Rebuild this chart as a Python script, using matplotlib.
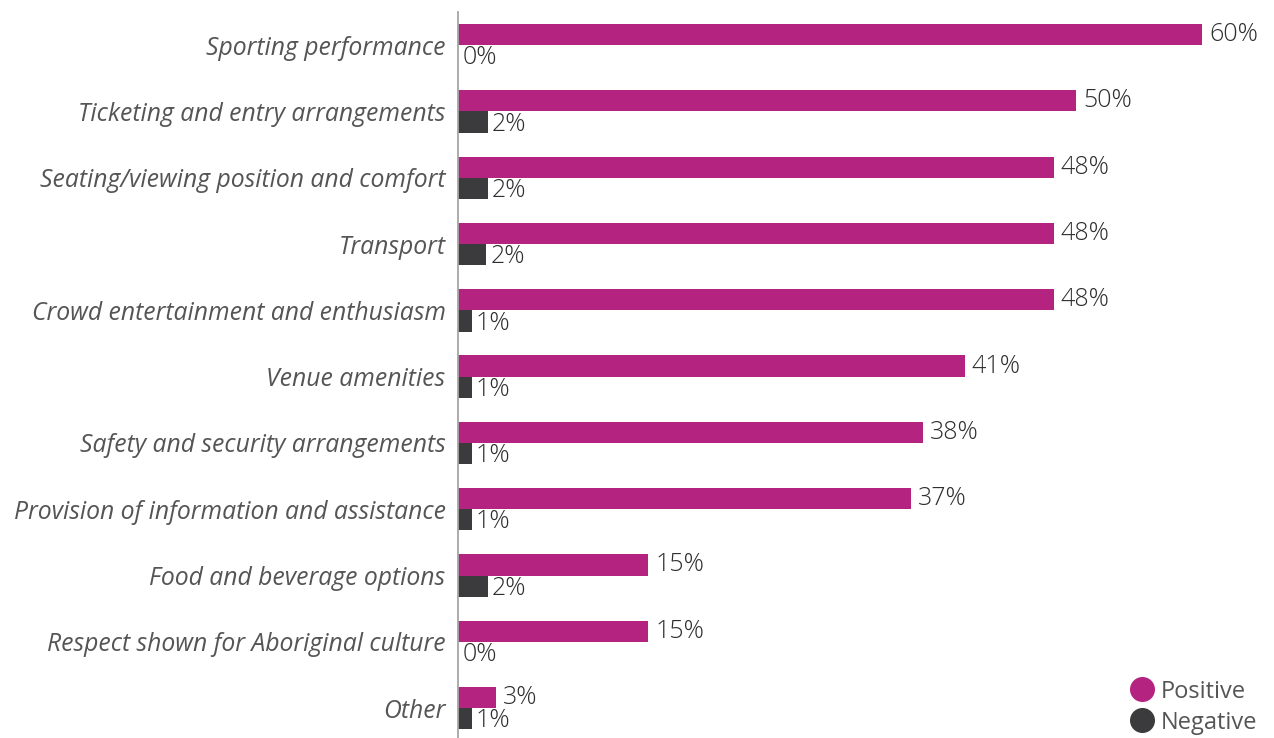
import matplotlib
matplotlib.use("Agg")
import matplotlib.pyplot as plt
from matplotlib.lines import Line2D

categories = [
    "Sporting performance",
    "Ticketing and entry arrangements",
    "Seating/viewing position and comfort",
    "Transport",
    "Crowd entertainment and enthusiasm",
    "Venue amenities",
    "Safety and security arrangements",
    "Provision of information and assistance",
    "Food and beverage options",
    "Respect shown for Aboriginal culture",
    "Other",
]
positive = [60.2, 50.0, 48.2, 48.2, 48.2, 41.0, 37.6, 36.6, 15.4, 15.4, 3.1]
negative = [0.0, 2.4, 2.4, 2.3, 1.1, 1.1, 1.1, 1.1, 2.4, 0.0, 1.1]
series_names = ["Positive", "Negative"]

POS_COLOR = "#B52380"
NEG_COLOR = "#3B3B3D"
TEXT_COLOR = "#2e2e2e"
LABEL_COLOR = "#555555"

plt.rcParams["font.family"] = ["Open Sans", "DejaVu Sans"]

fig = plt.figure(figsize=(12.74, 7.38), dpi=100)
ax = fig.add_axes([458 / 1274, 0, 816 / 1274, 726 / 738])

y = list(range(len(categories)))
h = 0.32
ypos = [i - h / 2 for i in y]
yneg = [i + h / 2 for i in y]

ax.barh(ypos, positive, height=h, color=POS_COLOR)
ax.barh(yneg, negative, height=h, color=NEG_COLOR)

for yy, v in zip(ypos, positive):
    ax.annotate(f"{v:.0f}%", (v, yy), xytext=(5, 0), textcoords="offset points",
                va="center", ha="left", fontsize=18, color=TEXT_COLOR, fontweight="light")
for yy, v in zip(yneg, negative):
    ax.annotate(f"{v:.0f}%", (v, yy), xytext=(3, -1.5), textcoords="offset points",
                va="center", ha="left", fontsize=18, color=TEXT_COLOR, fontweight="light")

ax.set_xlim(0, 66)
ax.set_ylim(10.45, -0.5)
ax.set_yticks(y)
ax.set_yticklabels(categories, fontsize=17.8, style="italic", color=LABEL_COLOR)
ax.tick_params(axis="y", length=0, pad=9)
ax.set_xticks([])
for s in ["top", "right", "bottom"]:
    ax.spines[s].set_visible(False)
ax.spines["left"].set_color("#A6A6A6")
ax.spines["left"].set_linewidth(1.3)

handles = [
    Line2D([], [], marker="o", linestyle="none", markersize=17, color=POS_COLOR),
    Line2D([], [], marker="o", linestyle="none", markersize=17, color=NEG_COLOR),
]
leg = fig.legend(handles, series_names, loc="lower right", bbox_to_anchor=(1.0, -0.018),
                 frameon=False, handletextpad=-0.2, labelspacing=0.3,
                 fontsize=17, borderaxespad=0.3)
for t in leg.get_texts():
    t.set_color(LABEL_COLOR)

fig.savefig("out.png", dpi=100)
